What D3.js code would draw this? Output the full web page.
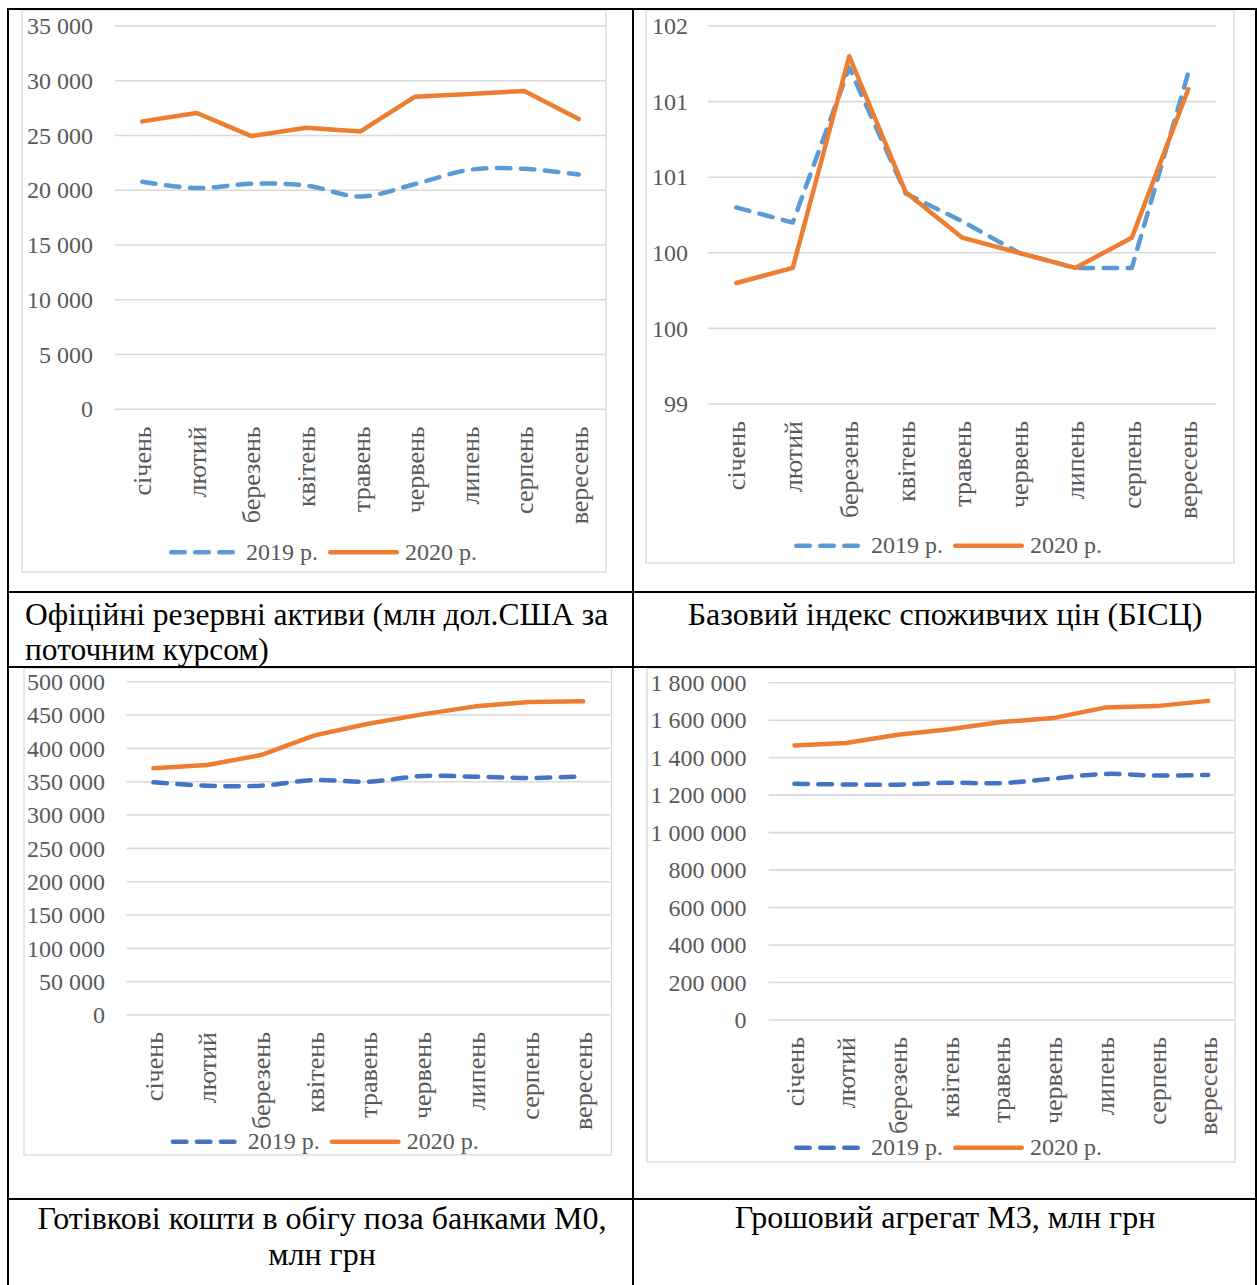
<!DOCTYPE html>
<html><head><meta charset="utf-8">
<script src="https://cdn.jsdelivr.net/npm/d3@7"></script>
<style>html,body{margin:0;padding:0;background:#fff}</style>
</head><body><svg id="c" width="1259" height="1285"></svg>
<script>
const months = ["січень","лютий","березень","квітень","травень","червень","липень","серпень","вересень"];
const seriesNames = ["2019 р.","2020 р."];

const reserves2019 = [20780, 20200, 20590, 20440, 19430, 20570, 21870, 21960, 21440];
const reserves2020 = [26290, 27060, 24950, 25710, 25370, 28550, 28790, 29070, 26500];
const reservesTicks = [0, 5000, 10000, 15000, 20000, 25000, 30000, 35000];

const bisc2019 = [100.56, 100.44, 101.67, 100.67, 100.45, 100.2, 100.08, 100.08, 101.63];
const bisc2020 = [99.96, 100.08, 101.76, 100.68, 100.32, 100.2, 100.08, 100.32, 101.5];
const biscTicks = [99, 99.6, 100.2, 100.8, 101.4, 102];

const m0_2019 = [349000, 344000, 344000, 352500, 350000, 358500, 357500, 355500, 358000];
const m0_2020 = [370000, 375000, 390000, 419500, 437000, 451000, 463000, 469600, 470500];
const m0Ticks = [0, 50000, 100000, 150000, 200000, 250000, 300000, 350000, 400000, 450000, 500000];

const m3_2019 = [1260500, 1257000, 1256000, 1266000, 1264000, 1288000, 1313000, 1304600, 1308000];
const m3_2020 = [1465000, 1478000, 1522000, 1552000, 1590000, 1611000, 1667000, 1675000, 1703000];
const m3Ticks = [0, 200000, 400000, 600000, 800000, 1000000, 1200000, 1400000, 1600000, 1800000];

const captionReserves = ["Офіційні резервні активи (млн дол.США за", "поточним курсом)"];
const captionBisc = ["Базовий індекс споживчих цін (БІСЦ)"];
const captionM0 = ["Готівкові кошти в обігу поза банками М0,", "млн грн"];
const captionM3 = ["Грошовий агрегат М3, млн грн"];

const FONT = "'Liberation Serif','Times New Roman',serif";
const ORANGE = "#ED7D31", BLUE_L = "#5B9BD5", BLUE_D = "#4472C4", GREY = "#595959", GRID = "#D9D9D9";

const svg = d3.select("#c");
svg.append("rect").attr("width",1259).attr("height",1285).attr("fill","#fff");

const fmtSpace = d3.formatLocale({decimal:",", thousands:" ", grouping:[3], currency:["",""]}).format(",.0f");
const fmtInt = d3.format(".0f");

const charts = [
  {s19:reserves2019, s20:reserves2020, ticks:reservesTicks, fmt:fmtSpace,
   frame:[22,10,584,562], plot:{left:115,right:606,top:26,bottom:409.3}, pad:22,
   legend:[169,552.3], blue:BLUE_L, smooth19:true, smooth20:false},
  {s19:bisc2019, s20:bisc2020, ticks:biscTicks, fmt:fmtInt,
   frame:[646,10,588,553], plot:{left:708,right:1216.6,top:26,bottom:404}, pad:20,
   legend:[794,545.7], blue:BLUE_L, smooth19:false, smooth20:false},
  {s19:m0_2019, s20:m0_2020, ticks:m0Ticks, fmt:fmtSpace,
   frame:[24,668,587.5,487], plot:{left:126.6,right:610,top:681.7,bottom:1015}, pad:21.6,
   legend:[170.7,1141.7], blue:BLUE_D, smooth19:true, smooth20:false},
  {s19:m3_2019, s20:m3_2020, ticks:m3Ticks, fmt:fmtSpace,
   frame:[647,668,588,494], plot:{left:768.6,right:1234,top:682.7,bottom:1020}, pad:22,
   legend:[794,1147.7], blue:BLUE_D, smooth19:true, smooth20:false}
];

function drawChart(c){
  const g = svg.append("g");
  g.append("rect").attr("x",c.frame[0]).attr("y",c.frame[1]).attr("width",c.frame[2]).attr("height",c.frame[3])
    .attr("fill","#fff").attr("stroke",GRID).attr("stroke-width",1.3);
  const x = d3.scaleBand().domain(months).range([c.plot.left,c.plot.right]);
  const y = d3.scaleLinear().domain([c.ticks[0], c.ticks[c.ticks.length-1]]).range([c.plot.bottom,c.plot.top]);
  g.append("g").selectAll("line").data(c.ticks).join("line")
    .attr("x1",c.plot.left).attr("x2",c.plot.right)
    .attr("y1",d=>y(d)).attr("y2",d=>y(d))
    .attr("stroke",GRID).attr("stroke-width",1.6);
  const ya = g.append("g").attr("transform",`translate(${c.plot.left},0)`)
    .call(d3.axisLeft(y).tickValues(c.ticks).tickFormat(c.fmt).tickSize(0).tickPadding(c.pad));
  ya.select(".domain").remove();
  ya.attr("font-family",FONT).attr("font-size",24);
  ya.selectAll("text").attr("fill",GREY);
  const xa = g.append("g").attr("transform",`translate(0,${c.plot.bottom})`)
    .call(d3.axisBottom(x).tickSize(0));
  xa.select(".domain").remove();
  xa.attr("font-family",FONT).attr("font-size",26);
  xa.selectAll("text").attr("fill",GREY).attr("transform","rotate(-90)")
    .attr("text-anchor","end").attr("x",-17).attr("y",0).attr("dy","0.35em");

  const mk = (smooth) => d3.line()
    .x((d,i)=>x(months[i])+x.bandwidth()/2).y(d=>y(d))
    .curve(smooth ? d3.curveCatmullRom.alpha(0) : d3.curveLinear);
  g.append("path").attr("d",mk(c.smooth19)(c.s19)).attr("fill","none").attr("stroke",c.blue)
    .attr("stroke-width",4.5).attr("stroke-dasharray","13.5,10.5").attr("stroke-linecap","round").attr("stroke-linejoin","round");
  g.append("path").attr("d",mk(c.smooth20)(c.s20)).attr("fill","none").attr("stroke",ORANGE)
    .attr("stroke-width",4.5).attr("stroke-linecap","round").attr("stroke-linejoin","round");

  const lx = c.legend[0], ly = c.legend[1];
  g.append("line").attr("x1",lx+2.25).attr("x2",lx+63.75).attr("y1",ly).attr("y2",ly)
    .attr("stroke",c.blue).attr("stroke-width",4.5).attr("stroke-dasharray","13.5,10.5").attr("stroke-linecap","round");
  g.append("text").attr("x",lx+77).attr("y",ly).attr("dy","0.32em").attr("font-family",FONT).attr("font-size",24)
    .attr("fill",GREY).text(seriesNames[0]);
  g.append("line").attr("x1",lx+161.25).attr("x2",lx+227.75).attr("y1",ly).attr("y2",ly)
    .attr("stroke",ORANGE).attr("stroke-width",4.5).attr("stroke-linecap","round");
  g.append("text").attr("x",lx+236).attr("y",ly).attr("dy","0.32em").attr("font-family",FONT).attr("font-size",24)
    .attr("fill",GREY).text(seriesNames[1]);
}
charts.forEach(drawChart);

// captions
function caption(lines, x, ys, anchor, size){
  lines.forEach((t,i)=>{
    svg.append("text").attr("x",x).attr("y",ys[i]).attr("text-anchor",anchor)
      .attr("font-family",FONT).attr("font-size",size).attr("fill","#000").text(t);
  });
}
caption(captionReserves, 25, [625,660], "start", 31.5);
caption(captionBisc, 945, [625], "middle", 32);
caption(captionM0, 322, [1229,1265], "middle", 32);
caption(captionM3, 945, [1228], "middle", 32);

// table borders
const hLines = [9, 592, 667, 1199];
const vLines = [8, 633, 1256];
svg.append("g").selectAll("line").data(hLines).join("line")
  .attr("x1",7).attr("x2",1257).attr("y1",d=>d).attr("y2",d=>d).attr("stroke","#000").attr("stroke-width",2);
svg.append("g").selectAll("line").data(vLines).join("line")
  .attr("x1",d=>d).attr("x2",d=>d).attr("y1",8).attr("y2",1285).attr("stroke","#000").attr("stroke-width",2);
</script>
</body></html>
